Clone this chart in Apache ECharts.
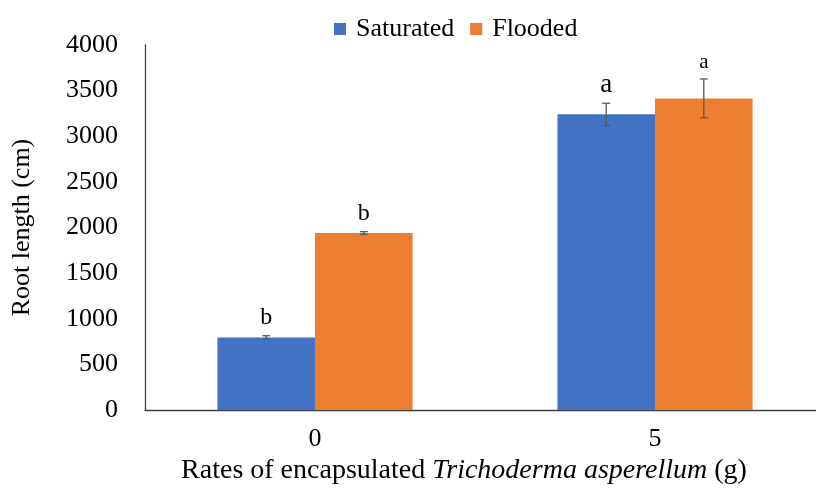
<!DOCTYPE html>
<html>
<head>
<meta charset="utf-8">
<script src="https://cdn.jsdelivr.net/npm/echarts@6/dist/echarts.min.js"></script>
<style>
  html, body { margin: 0; padding: 0; background: #fff; overflow: hidden; }
  #main { width: 825px; height: 490px; }
</style>
</head>
<body>
<div id="main"></div>
<script>
var categories = ['0', '5'];
var saturated = [795, 3240];
var flooded = [1940, 3415];
var saturatedErr = [20, 122];
var floodedErr = [15, 213];
var saturatedLetters = ['b', 'a'];
var floodedLetters = ['b', 'a'];
var yTicks = { min: 0, max: 4000, interval: 500 };

// letter font sizes differ slightly in the original
var saturatedLetterSize = [24, 27];
var floodedLetterSize = [24, 21];

var font = 'Liberation Serif';
var gapRatio = 0.426;

var chart = echarts.init(document.getElementById('main'));

// error bars + letters, shifted to the left (-1) or right (+1) bar
function errSeries(name, values, errs, letters, sizes, side) {
    var data = values.map(function (v, i) { return [i, v, errs[i]]; });
    return {
        name: name + ' err',
        type: 'custom',
        z: 5,
        renderItem: function (params, api) {
            var i = api.value(0);
            var v = api.value(1);
            var e = api.value(2);
            var band = api.size([1, 0])[0];
            var x = api.coord([i, v])[0] + side * band * (1 - gapRatio) / 4;
            var top = api.coord([i, v + e])[1];
            var bot = api.coord([i, v - e])[1];
            var cap = 4;
            var st = { stroke: '#595959', lineWidth: 1.3 };
            var fs = sizes[i];
            return {
                type: 'group',
                children: [
                    { type: 'line', shape: { x1: x, y1: top, x2: x, y2: bot }, style: st },
                    { type: 'line', shape: { x1: x - cap, y1: top, x2: x + cap, y2: top }, style: st },
                    { type: 'line', shape: { x1: x - cap, y1: bot, x2: x + cap, y2: bot }, style: st },
                    { type: 'text', x: x, y: top - 11 + Math.round(fs * 0.22), style: {
                        text: letters[i], fill: '#000', font: fs + 'px "' + font + '"',
                        align: 'center', verticalAlign: 'bottom' } }
                ]
            };
        },
        data: data,
        tooltip: { show: false }
    };
}

option = {
    backgroundColor: '#fff',
    animation: false,
    textStyle: { fontFamily: font },
    legend: {
        top: 11,
        left: 329,
        data: ['Saturated', 'Flooded'],
        itemWidth: 12,
        itemHeight: 12,
        itemGap: 16,
        icon: 'rect',
        textStyle: { fontFamily: font, fontSize: 26, color: '#000', padding: [0, 0, 0, 5] }
    },
    grid: {
        left: 145,
        right: 0,
        top: 45,
        bottom: 77,
        containLabel: false
    },
    xAxis: {
        type: 'category',
        data: categories,
        axisLine: { lineStyle: { color: '#404040', width: 1.3 } },
        axisTick: { show: false },
        axisLabel: { fontFamily: font, fontSize: 26, color: '#000', margin: 16 },
        name: '{n|Rates of encapsulated }{i|Trichoderma asperellum}{n| (g)}',
        nameLocation: 'middle',
        nameGap: 44,
        nameTextStyle: {
            padding: [0, 42, 0, 0],
            rich: {
                n: { fontFamily: font, fontSize: 28, color: '#000' },
                i: { fontFamily: font, fontSize: 28, color: '#000', fontStyle: 'italic' }
            }
        }
    },
    yAxis: {
        type: 'value',
        min: yTicks.min,
        max: yTicks.max,
        interval: yTicks.interval,
        splitLine: { show: false },
        axisLine: { show: true, lineStyle: { color: '#404040', width: 1.3 } },
        axisTick: { show: false },
        axisLabel: { fontFamily: font, fontSize: 26, color: '#000', margin: 27,
            formatter: function (v) { return String(v); } },
        name: 'Root length (cm)',
        nameLocation: 'middle',
        nameRotate: 90,
        nameGap: 110,
        nameTextStyle: { fontFamily: font, fontSize: 26, color: '#000' }
    },
    series: [
        {
            name: 'Saturated',
            type: 'bar',
            data: saturated,
            barGap: '0%',
            barCategoryGap: (gapRatio * 100) + '%',
            itemStyle: { color: '#4472C4' }
        },
        {
            name: 'Flooded',
            type: 'bar',
            data: flooded,
            barGap: '0%',
            barCategoryGap: (gapRatio * 100) + '%',
            itemStyle: { color: '#ED7D31' }
        },
        errSeries('Saturated', saturated, saturatedErr, saturatedLetters, saturatedLetterSize, -1),
        errSeries('Flooded', flooded, floodedErr, floodedLetters, floodedLetterSize, 1)
    ]
};
chart.setOption(option);
</script>
</body>
</html>
